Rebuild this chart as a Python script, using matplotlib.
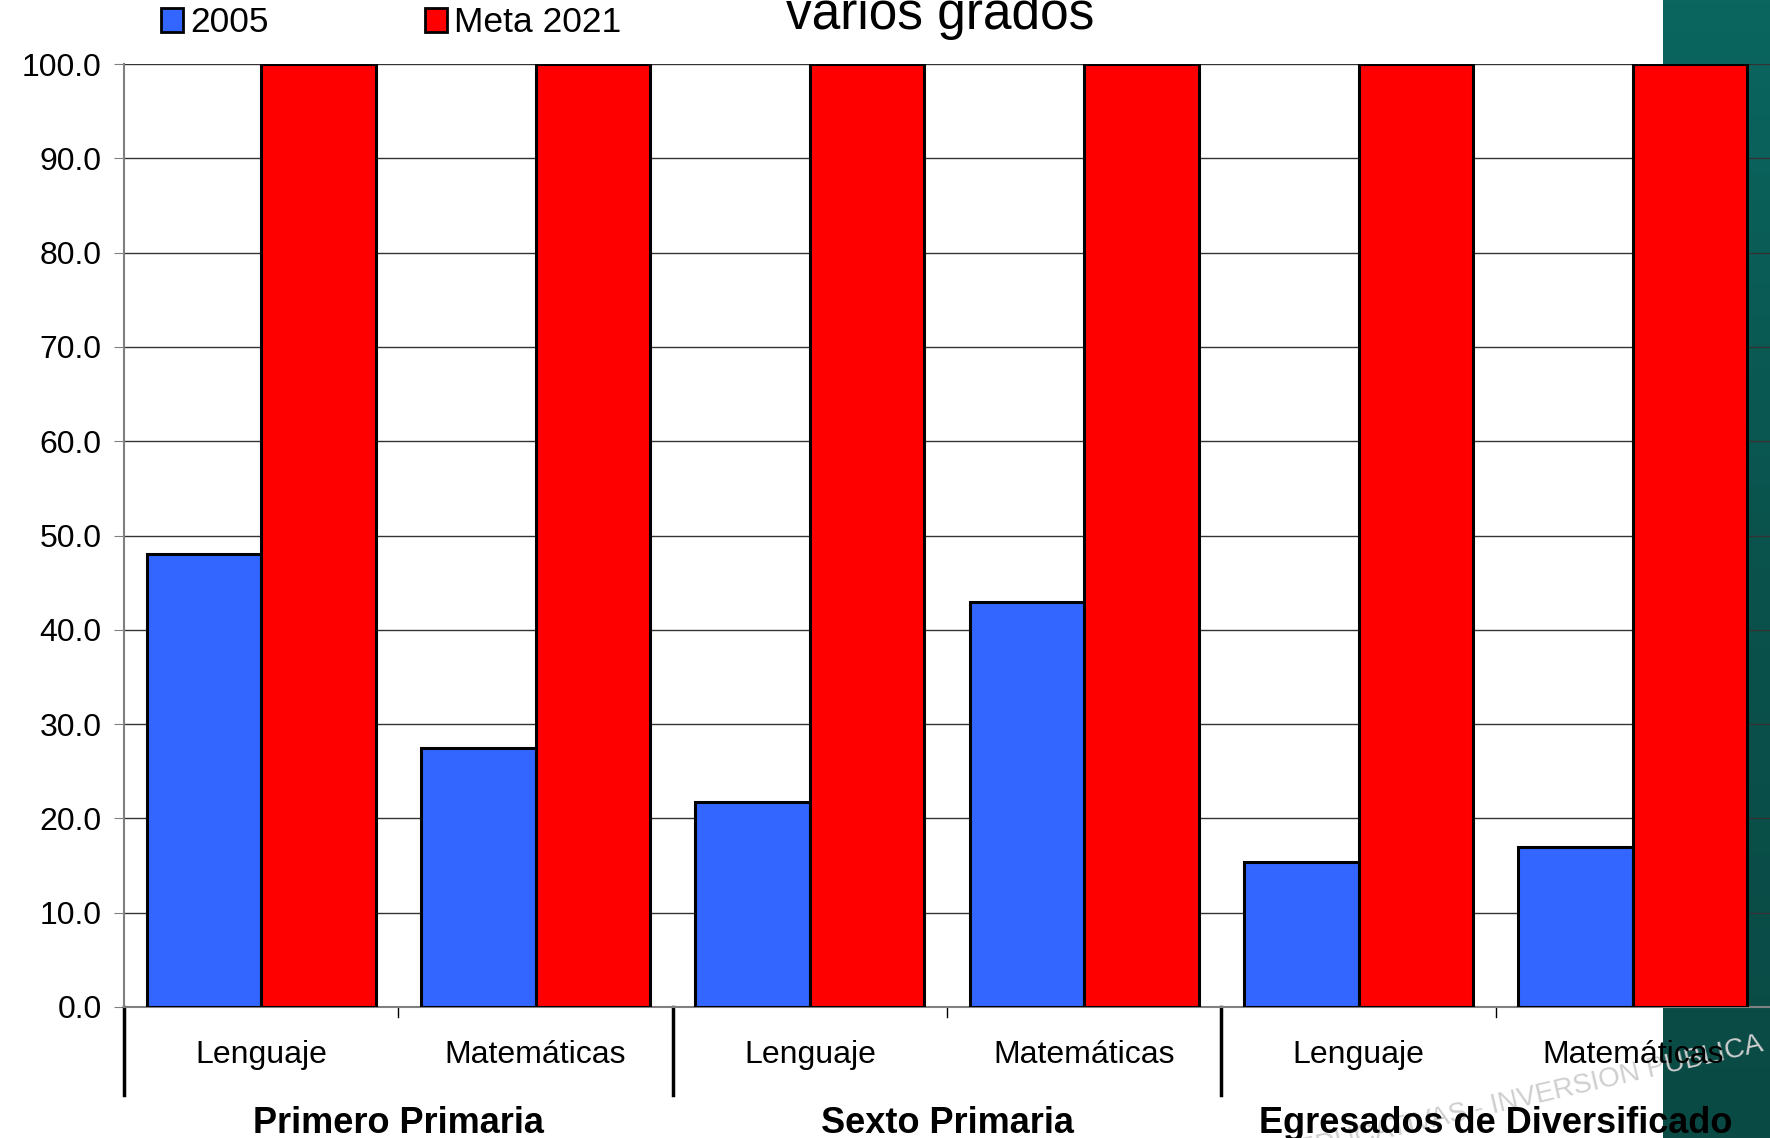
import numpy as np
import matplotlib
matplotlib.use("Agg")
import matplotlib.pyplot as plt
from matplotlib.patches import Patch
from matplotlib.colors import LinearSegmentedColormap

plt.rcParams['font.family'] = ['Liberation Sans', 'DejaVu Sans']

# data
grupos = ["Primero Primaria", "Sexto Primaria", "Egresados de Diversificado"]
materias = ["Lenguaje", "Matemáticas"]
valores_2005 = [48.0, 27.5, 21.7, 43.0, 15.4, 17.0]
meta_2021 = [100.0, 100.0, 100.0, 100.0, 100.0, 100.0]
yticks = np.arange(0, 101, 10)

W, H = 1770, 1138
fig = plt.figure(figsize=(W / 100, H / 100), dpi=100)

# teal panel on the right side of the slide
bg = fig.add_axes([1663 / W, 0, 1 - 1663 / W, 1], zorder=-5)
grad = np.linspace(0, 1, 256).reshape(-1, 1)
cm = LinearSegmentedColormap.from_list("teal", ["#0b6660", "#0a524c", "#0b4a45"])
bg.imshow(grad, aspect="auto", cmap=cm, extent=(0, 1, 0, 1))
bg.axis("off")

ax = fig.add_axes([124 / W, 1 - 1007 / H, 1 - 124 / W, (1007 - 64) / H])
ax.patch.set_alpha(0)

n = len(valores_2005)
x = np.arange(n) + 0.5
w = 0.4175
ax.bar(x - w / 2, valores_2005, w, color="#3366ff", edgecolor="black", linewidth=2.2, zorder=3)
ax.bar(x + w / 2, meta_2021, w, color="#ff0000", edgecolor="black", linewidth=2.2, zorder=3)

ax.set_xlim(0, n)
ax.set_ylim(0, 100)
ax.set_yticks(yticks)
ax.set_yticklabels([f"{v:.1f}" for v in yticks], fontsize=23)
ax.yaxis.grid(True, color="#333333", linewidth=1)
ax.set_axisbelow(True)
for s in ["top", "right"]:
    ax.spines[s].set_visible(False)
ax.spines["left"].set_color("#808080")
ax.spines["left"].set_linewidth(1.5)
ax.spines["bottom"].set_color("#808080")
ax.spines["bottom"].set_linewidth(1.5)
ax.tick_params(axis="y", length=7, color="#808080", pad=9)
ax.set_xticks([])

# two-level category axis
tr = ax.get_xaxis_transform()
ax_h = 1007 - 64
for i in range(n):
    ax.text(x[i], -(1063 - 1007) / ax_h, materias[i % 2], transform=tr,
            ha="center", va="baseline", fontsize=23)
for g in range(len(grupos)):
    ax.text(2 * g + 1, -(1133 - 1007) / ax_h, grupos[g], transform=tr,
            ha="center", va="baseline", fontsize=26, fontweight="bold")
    ax.plot([2 * g, 2 * g], [0, -(1095 - 1007) / ax_h], transform=tr,
            color="black", lw=2.5, clip_on=False)
    ax.plot([2 * g + 1, 2 * g + 1], [0, -10 / ax_h], transform=tr,
            color="black", lw=1, clip_on=False)

# watermark
fig.text(1763 / W, 1 - 1044 / H, "EDUCATIVAS - INVERSION PUBLICA", rotation=13,
         rotation_mode="anchor", fontsize=20, color="#cfcfcf",
         ha="right", va="center", zorder=-1)

# title (cut off at the top)
fig.text(940 / W, 1 - 29 / H, "varios grados", fontsize=37, ha="center", va="baseline")

handles = [Patch(facecolor="#3366ff", edgecolor="black", linewidth=2),
           Patch(facecolor="#ff0000", edgecolor="black", linewidth=2)]
fig.legend(handles, ["2005", "Meta 2021"], ncol=2, frameon=False, fontsize=25.5,
           loc="center left", bbox_to_anchor=(161 / W, 1 - 23 / H),
           borderpad=0, borderaxespad=0,
           handlelength=0.63, handleheight=0.65, handletextpad=0.2, columnspacing=4.4)

fig.savefig("out.png", dpi=100)
